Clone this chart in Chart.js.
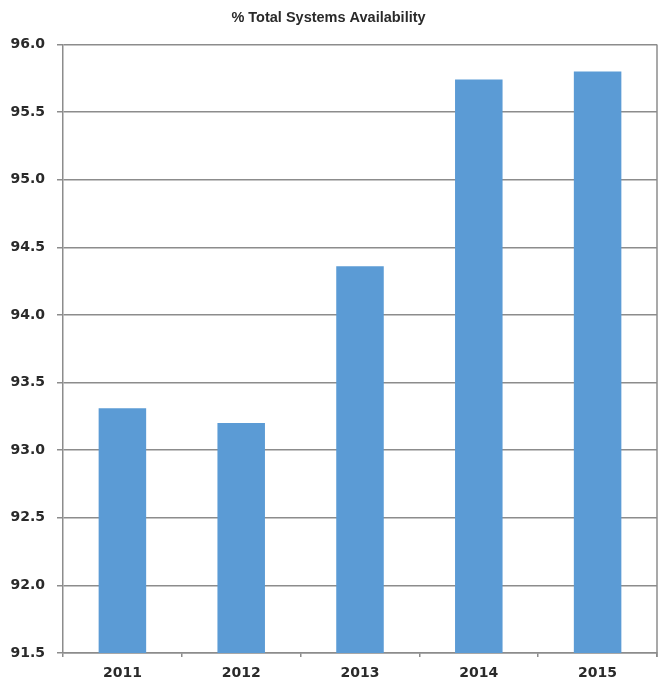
<!DOCTYPE html>
<html>
<head>
<meta charset="utf-8">
<script src="https://cdn.jsdelivr.net/npm/chart.js@4/dist/chart.umd.min.js"></script>
<style>
  html, body { margin: 0; padding: 0; background: #ffffff; }
  #wrap { width: 665px; height: 686px; position: relative; }
</style>
</head>
<body>
<div id="wrap"><canvas id="c" width="665" height="686"></canvas></div>
<script>
const years = ['2011', '2012', '2013', '2014', '2015'];
const availability = [93.31, 93.2, 94.36, 95.74, 95.8];
const yTicks = [91.5, 92.0, 92.5, 93.0, 93.5, 94.0, 94.5, 95.0, 95.5, 96.0];
const chartTitle = '% Total Systems Availability';

const gridColor = '#8c8c8c';
const labelFont = { family: '"DejaVu Sans", sans-serif', size: 14, weight: 'bold' };

// Right-hand frame line of the plot area
const frameRight = {
  id: 'frameRight',
  afterDraw(chart) {
    const { ctx, chartArea } = chart;
    ctx.save();
    ctx.strokeStyle = gridColor;
    ctx.lineWidth = 1.5;
    ctx.beginPath();
    ctx.moveTo(chartArea.right, chartArea.top);
    ctx.lineTo(chartArea.right, chartArea.bottom + 4);
    ctx.stroke();
    ctx.restore();
  }
};

new Chart(document.getElementById('c'), {
  type: 'bar',
  data: {
    labels: years,
    datasets: [{
      data: availability,
      backgroundColor: '#5b9bd5',
      borderWidth: 0,
      categoryPercentage: 1.0,
      barPercentage: 0.4
    }]
  },
  options: {
    responsive: false,
    animation: false,
    devicePixelRatio: 1,
    layout: { padding: { left: 0, right: 8, top: 0, bottom: 0 } },
    plugins: {
      legend: { display: false },
      tooltip: { enabled: false },
      title: {
        display: true,
        text: chartTitle,
        color: '#2a2a2a',
        font: { family: '"Liberation Sans", Arial, sans-serif', size: 14.5, weight: 'bold' },
        padding: { top: 9, bottom: 18 }
      }
    },
    scales: {
      x: {
        offset: true,
        grid: {
          drawOnChartArea: false,
          offset: true,
          color: gridColor,
          lineWidth: 1.5,
          tickLength: 4
        },
        border: { color: gridColor, width: 1.5 },
        ticks: { color: '#2a2a2a', font: labelFont, padding: 8 },
        afterFit(scale) { scale.height = 33; }
      },
      y: {
        min: 91.5,
        max: 96.0,
        afterBuildTicks(scale) { scale.ticks = yTicks.map(v => ({ value: v })); },
        grid: { color: gridColor, lineWidth: 1.5, tickLength: 6 },
        border: { color: gridColor, width: 1.5 },
        ticks: {
          color: '#2a2a2a',
          font: labelFont,
          padding: 12,
          callback: v => Number(v).toFixed(1)
        },
        afterFit(scale) { scale.width = 63; }
      }
    }
  },
  plugins: [frameRight]
});
</script>
</body>
</html>
